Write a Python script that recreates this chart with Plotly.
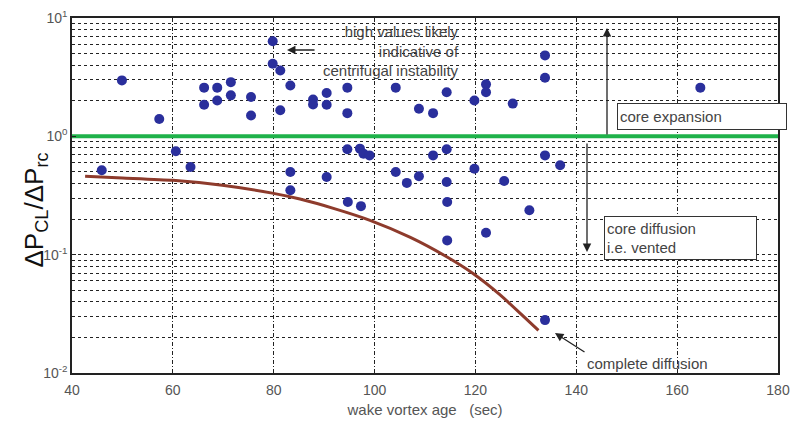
import plotly.graph_objects as go

# scatter observations (wake vortex age [s], dPcl/dPrc)
age = [49.9, 57.3, 66.2, 68.8, 71.5, 66.2, 68.8, 71.5, 75.5, 75.5,
       79.8, 79.8, 81.3, 83.3, 81.3, 87.8, 87.8, 90.5, 90.5, 94.6,
       94.6, 104.2, 108.8, 111.6, 114.3, 119.8, 122.1, 122.1, 127.4, 133.8,
       133.8, 164.6,
       45.9, 60.6, 63.5, 83.3, 83.3, 90.5, 94.6, 97.1, 97.8, 99.0,
       94.7, 97.3, 104.2, 106.4, 108.8, 111.6, 114.3, 114.3, 114.4, 114.4,
       119.8, 122.1, 125.7, 130.7, 133.8, 136.8, 133.8]
ratio = [2.97, 1.40, 2.58, 2.58, 2.87, 1.85, 2.01, 2.22, 2.15, 1.50,
         6.37, 4.11, 3.60, 2.69, 1.66, 2.05, 1.86, 2.32, 1.85, 2.58,
         1.57, 2.58, 1.71, 1.57, 2.36, 2.01, 2.75, 2.36, 1.89, 4.83,
         3.13, 2.58,
         0.517, 0.747, 0.551, 0.50, 0.35, 0.454, 0.777, 0.787, 0.714, 0.69,
         0.279, 0.257, 0.50, 0.404, 0.46, 0.69, 0.777, 0.411, 0.279, 0.132,
         0.533, 0.153, 0.42, 0.237, 0.69, 0.569, 0.028]

# fitted decay curve
curve_age = [42.6, 50, 60, 69.8, 79.7, 85.2, 92.0, 99.1, 107.1, 114.3, 119.6, 124.9, 129.0, 132.5]
curve_ratio = [0.46, 0.445, 0.425, 0.386, 0.331, 0.295, 0.245, 0.195, 0.140, 0.096, 0.069, 0.0457, 0.0316, 0.0229]

# threshold line
thresh_age = [40, 180]
thresh_val = [1.0, 1.0]

x_ticks = [40, 60, 80, 100, 120, 140, 160, 180]
y_ticks = [0.01, 0.1, 1, 10]
y_ticktext = ["10<sup>-2</sup>", "10<sup>-1</sup>", "10<sup>0</sup>", "10<sup>1</sup>"]

FONT = "Liberation Sans, Arial, sans-serif"
TXT = "#444444"

fig = go.Figure()
fig.add_trace(go.Scatter(x=thresh_age, y=thresh_val, mode="lines",
                         line=dict(color="#1fb24a", width=4), showlegend=False))
fig.add_trace(go.Scatter(x=curve_age, y=curve_ratio, mode="lines",
                         line=dict(color="#8e3b2c", width=3, shape="spline", smoothing=0.6),
                         showlegend=False))
fig.add_trace(go.Scatter(x=age, y=ratio, mode="markers",
                         marker=dict(color="#2a2f9c", size=10), showlegend=False))

fig.update_layout(
    width=790, height=424,
    margin=dict(l=72, r=12, t=18, b=51),
    paper_bgcolor="white", plot_bgcolor="white",
    font=dict(family=FONT, color="#555555", size=14),
)
fig.update_xaxes(range=[40, 180], tickvals=x_ticks, ticktext=[str(v) for v in x_ticks],
                 automargin=False, ticklabelstandoff=3,
                 showgrid=True, gridcolor="#222222", griddash="4px,2px,1px,2px", gridwidth=1,
                 showline=True, linecolor="#222222", linewidth=1.5, mirror=True,
                 ticks="inside", ticklen=4, tickcolor="#222222",
                 tickfont=dict(size=14, color="#555555"), zeroline=False,
                 title=dict(text="wake vortex age   (sec)", font=dict(size=15, color="#555555"), standoff=8))
fig.update_yaxes(type="log", range=[-2, 1], tickvals=y_ticks, ticktext=y_ticktext,
                 automargin=False,
                 showgrid=True, gridcolor="#222222", griddash="3px,3px", gridwidth=1,
                 minor=dict(dtick="D1", showgrid=True, gridcolor="#222222", griddash="3px,3px",
                            gridwidth=1, ticks="inside", ticklen=2, tickcolor="#222222"),
                 showline=True, linecolor="#222222", linewidth=1.5, mirror=True,
                 ticks="inside", ticklen=4, tickcolor="#222222",
                 tickfont=dict(size=14, color="#555555"), zeroline=False)

def px2paper(px, py):
    return (px - 72) / 706.0, (373 - py) / 355.0

anns = []
# y-axis label
x, y = px2paper(17, 210)
anns.append(dict(xref="paper", yref="paper", x=x, y=y, textangle=-90, showarrow=False,
                 text="ΔP<sub>CL</sub>/ΔP<sub>rc</sub>", font=dict(size=26, color="#111111")))
# high values text
x, y = px2paper(461, 51)
anns.append(dict(xref="paper", yref="paper", x=x, y=y, xanchor="right", yanchor="middle",
                 align="right", showarrow=False,
                 text="high values likely<br>indicative of<br>centrifugal instability",
                 font=dict(size=15, color=TXT)))
# arrows
def arrow(tip, tail):
    x, y = px2paper(*tip)
    return dict(xref="paper", yref="paper", x=x, y=y, ax=tail[0] - tip[0], ay=tail[1] - tip[1],
                text="", showarrow=True, arrowhead=2, arrowsize=1.3, arrowwidth=1.3,
                arrowcolor="#222222")
anns.append(arrow((287, 50), (316, 50)))
anns.append(arrow((607, 28), (607, 136)))
anns.append(arrow((587, 252), (587, 142)))
anns.append(arrow((555, 333), (586, 353)))
# boxes
x, y = px2paper(617, 103)
anns.append(dict(xref="paper", yref="paper", x=x, y=y, xanchor="left", yanchor="top",
                 showarrow=False, text="core expansion", align="left", width=164, height=21,
                 borderpad=2, bordercolor="#333333", borderwidth=1, bgcolor="white",
                 font=dict(size=15, color=TXT)))
x, y = px2paper(604, 216)
anns.append(dict(xref="paper", yref="paper", x=x, y=y, xanchor="left", yanchor="top",
                 showarrow=False, text="core diffusion<br>i.e. vented", align="left",
                 width=147, height=38, borderpad=2, bordercolor="#333333", borderwidth=1,
                 bgcolor="white", font=dict(size=15, color=TXT)))
x, y = px2paper(585, 363)
anns.append(dict(xref="paper", yref="paper", x=x, y=y, xanchor="left", yanchor="middle",
                 showarrow=False, text="complete diffusion", font=dict(size=15, color=TXT)))
fig.update_layout(annotations=anns)

fig.write_html("out.html")
